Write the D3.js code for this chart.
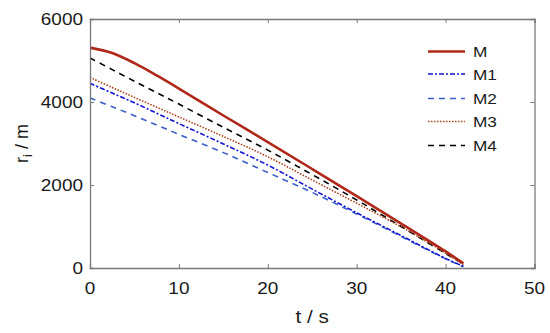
<!DOCTYPE html>
<html><head><meta charset="utf-8">
<script src="https://cdn.jsdelivr.net/npm/d3@7"></script>
<style>body{margin:0;background:#fff}svg{display:block}</style>
</head><body>
<svg id="c" width="550" height="333"></svg>
<script>
const times = [0,2.5,5,7.5,10,15,20,25,30,35,40,42];
const M  = [5310,5180,4935,4640,4325,3675,3035,2385,1730,1070,400,110];
const M1 = [4450,4215,3980,3730,3480,2990,2480,1900,1330,780,230,40];
const M2 = [4100,3885,3670,3445,3220,2780,2300,1820,1300,760,220,30];
const M3 = [4590,4350,4110,3875,3640,3170,2680,2120,1560,990,360,80];
const M4 = [5060,4780,4500,4225,3950,3390,2840,2250,1640,1000,350,100];
const seriesNames = ["M","M1","M2","M3","M4"];
const xTicks = [0,10,20,30,40,50];
const yTicks = [0,2000,4000,6000];

const styles = {
  M:  {color:"#b0281a", width:2.6, dash:null},
  M1: {color:"#1515d0", width:1.6, dash:"5,2,2,2"},
  M2: {color:"#3a5fc8", width:1.6, dash:"6,5"},
  M3: {color:"#a8431f", width:1.6, dash:"1.5,1.5"},
  M4: {color:"#000000", width:1.6, dash:"6,5"}
};
const data = {M, M1, M2, M3, M4};

const svg = d3.select("#c");
const L=90, R=534.5, T=19, B=268;
const x = d3.scaleLinear().domain([0,50]).range([L,R]);
const y = d3.scaleLinear().domain([0,6000]).range([B,T]);
const font = "'Liberation Sans', Arial, sans-serif";
const SX = 1.15;

// lines
const line = d3.line().x((d,i)=>x(times[i])).y(d=>y(d)).curve(d3.curveCatmullRom.alpha(0.5));
seriesNames.slice().reverse().forEach(n=>{
  const s=styles[n];
  svg.append("path").attr("d",line(data[n])).attr("fill","none")
    .attr("stroke",s.color).attr("stroke-width",s.width)
    .attr("stroke-dasharray",s.dash);
});

// axes
const axisColor="#7a7a7a";
const gB = svg.append("g").attr("transform",`translate(0,${B})`)
  .call(d3.axisBottom(x).tickValues(xTicks).tickSize(-4).tickFormat(""));
const gL = svg.append("g").attr("transform",`translate(${L},0)`)
  .call(d3.axisLeft(y).tickValues(yTicks).tickSize(-4).tickFormat(""));
const gT = svg.append("g").attr("transform",`translate(0,${T})`)
  .call(d3.axisTop(x).tickValues(xTicks).tickSize(-4).tickFormat(""));
const gR = svg.append("g").attr("transform",`translate(${R},0)`)
  .call(d3.axisRight(y).tickValues(yTicks).tickSize(-4).tickFormat(""));
[gB,gL,gT,gR].forEach(g=>{
  g.selectAll("path.domain").attr("stroke",axisColor).attr("stroke-width",1.3);
  g.selectAll(".tick line").attr("stroke",axisColor);
});

// tick labels (slightly widened like the reference)
xTicks.forEach(v=>{
  svg.append("text").attr("transform",`translate(${x(v)},${B+26}) scale(${SX},1)`)
    .attr("text-anchor","middle").attr("font-family",font).attr("font-size",16.5)
    .attr("fill","#1a1a1a").text(d3.format("d")(v));
});
yTicks.forEach(v=>{
  svg.append("text").attr("transform",`translate(${L-7},${y(v)+6}) scale(${SX},1)`)
    .attr("text-anchor","end").attr("font-family",font).attr("font-size",16.5)
    .attr("fill","#1a1a1a").text(d3.format("d")(v));
});

// axis titles
svg.append("text").attr("transform",`translate(${(L+R)/2},323) scale(${SX},1)`)
  .attr("text-anchor","middle").attr("font-family",font).attr("font-size",18)
  .attr("fill","#1a1a1a").text("t / s");
const yt = svg.append("text").attr("transform",`translate(28,${(T+B)/2}) rotate(-90)`)
  .attr("text-anchor","middle").attr("font-family",font).attr("font-size",18).attr("fill","#1a1a1a");
yt.append("tspan").text("r");
yt.append("tspan").attr("font-size",13).attr("dy",4).text("i");
yt.append("tspan").attr("dy",-4).text(" / m");

// legend
const legY = [51.5,74,98.5,121.5,145.5];
seriesNames.forEach((n,i)=>{
  const s=styles[n];
  svg.append("line").attr("x1",428).attr("x2",465).attr("y1",legY[i]).attr("y2",legY[i])
    .attr("stroke",s.color).attr("stroke-width",s.width).attr("stroke-dasharray",s.dash);
  svg.append("text").attr("transform",`translate(473,${legY[i]+5.5}) scale(${SX},1)`)
    .attr("font-family",font).attr("font-size",15).attr("fill","#1a1a1a").text(n);
});
</script>
</body></html>
